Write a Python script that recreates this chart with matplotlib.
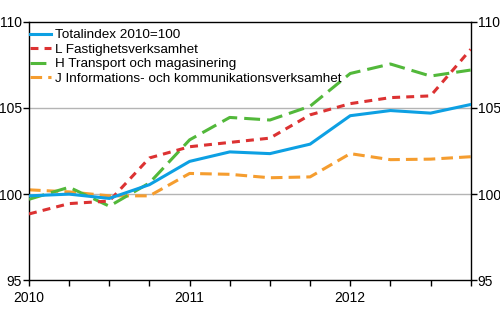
import matplotlib
matplotlib.use("Agg")
import matplotlib.pyplot as plt

plt.rcParams["font.family"] = ["Liberation Sans", "DejaVu Sans"]

# quarterly index values, 2010 Q1 .. 2012 Q4
quarters = list(range(12))
total = [99.9, 100.0, 99.75, 100.55, 101.9, 102.45, 102.35, 102.9, 104.55, 104.85, 104.7, 105.2]
fastighet = [98.85, 99.45, 99.6, 102.1, 102.75, 103.0, 103.25, 104.6, 105.25, 105.6, 105.7, 108.4]
transport = [99.7, 100.4, 99.3, 100.65, 103.15, 104.45, 104.3, 105.1, 107.0, 107.55, 106.85, 107.2]
info = [100.25, 100.13, 99.9, 99.9, 101.2, 101.15, 100.95, 101.0, 102.35, 102.0, 102.03, 102.17]

labels = [
    "Totalindex 2010=100",
    "L Fastighetsverksamhet",
    "H Transport och magasinering",
    "J Informations- och kommunikationsverksamhet",
]
year_ticks = [0, 4, 8]
year_labels = ["2010", "2011", "2012"]
y_ticks = [95, 100, 105, 110]

fig = plt.figure(figsize=(5, 3.3), dpi=100)
ax = fig.add_axes([0.058, 0.1506, 0.8834, 0.7834])

lw = 2.2
ax.plot(quarters, total, color="#0da0e3", linewidth=lw, label=labels[0], zorder=5)
ax.plot(quarters, fastighet, color="#dc3232", linewidth=lw, dashes=(2.6, 2.0), label=labels[1], zorder=4)
ax.plot(quarters, transport, color="#52b83a", linewidth=lw, dashes=(5.2, 2.3), label=labels[2], zorder=3)
ax.plot(quarters, info, color="#f59d2f", linewidth=lw, dashes=(3.8, 2.0), label=labels[3], zorder=2)

ax.set_xlim(0, 11)
ax.set_ylim(95, 110)

ax.set_xticks(quarters)
ax.set_xticklabels([year_labels[year_ticks.index(q)] if q in year_ticks else "" for q in quarters])
ax.set_yticks(y_ticks)
ax.set_yticklabels([str(v) for v in y_ticks])

ax.tick_params(axis="both", direction="out", length=4, width=1, colors="black",
               labelsize=10, pad=1)
ax.tick_params(axis="y", left=True, right=True, labelleft=True, labelright=True)
ax.tick_params(axis="x", pad=4)

for v in [100, 105]:
    ax.axhline(v, color="#b4b4b4", linewidth=1, zorder=1)

for spine in ax.spines.values():
    spine.set_color("black")
    spine.set_linewidth(1)

ax.legend(
    loc="upper left",
    bbox_to_anchor=(0.002, 0.972),
    frameon=False,
    fontsize=9.7,
    handlelength=1.6,
    handletextpad=0.25,
    labelspacing=0.15,
    borderpad=0,
    borderaxespad=0,
)

fig.savefig("out.png", dpi=100)
